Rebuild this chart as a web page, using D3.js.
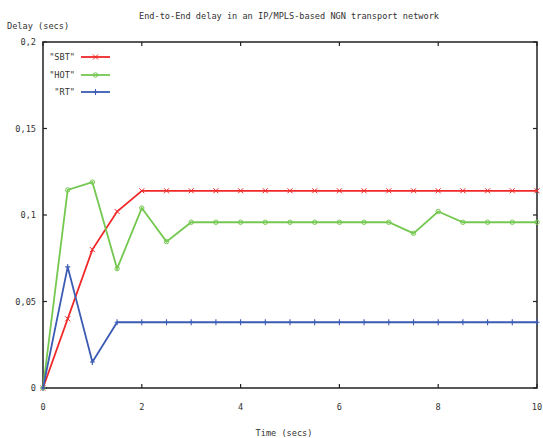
<!DOCTYPE html>
<html><head><meta charset="utf-8">
<script src="https://cdn.jsdelivr.net/npm/d3@7"></script>
<style>
body{margin:0;background:#fff;}
text{font-family:"DejaVu Sans Mono",monospace;font-size:8.6px;fill:#333;}
</style></head>
<body><svg id="c" width="543" height="438"></svg>
<script>
const times = [0,0.5,1,1.5,2,2.5,3,3.5,4,4.5,5,5.5,6,6.5,7,7.5,8,8.5,9,9.5,10];
const sbt = [0,0.040,0.080,0.102,0.114,0.114,0.114,0.114,0.114,0.114,0.114,0.114,0.114,0.114,0.114,0.114,0.114,0.114,0.114,0.114,0.114];
const hot = [0,0.1145,0.119,0.069,0.104,0.0846,0.0958,0.0958,0.0958,0.0958,0.0958,0.0958,0.0958,0.0958,0.0958,0.0894,0.102,0.0958,0.0958,0.0958,0.0958];
const rt  = [0,0.070,0.015,0.038,0.038,0.038,0.038,0.038,0.038,0.038,0.038,0.038,0.038,0.038,0.038,0.038,0.038,0.038,0.038,0.038,0.038];
const seriesNames = ['"SBT"','"HOT"','"RT"'];
const xTicks = [0,2,4,6,8,10];
const yTicks = [0,0.05,0.1,0.15,0.2];
const yTickLabels = ["0","0,05","0,1","0,15","0,2"];
const title = "End-to-End delay in an IP/MPLS-based NGN transport network";
const xLabel = "Time (secs)";
const yLabel = "Delay (secs)";

const svg = d3.select("#c");
const L=43,R=537,T=42,B=388;
const x = d3.scaleLinear().domain([0,10]).range([L,R]);
const y = d3.scaleLinear().domain([0,0.2]).range([B,T]);

const colors = ["#f02828","#74c850","#3c5cb4"];
const series = [sbt,hot,rt];

svg.append("rect").attr("x",L).attr("y",T).attr("width",R-L).attr("height",B-T)
  .attr("fill","none").attr("stroke","#222").attr("stroke-width",1.5);

const tl=4;
const ax = svg.append("g").attr("stroke","#222").attr("stroke-width",1.2);
xTicks.forEach(t=>{
  ax.append("line").attr("x1",x(t)).attr("x2",x(t)).attr("y1",B).attr("y2",B-tl);
  ax.append("line").attr("x1",x(t)).attr("x2",x(t)).attr("y1",T).attr("y2",T+tl);
});
yTicks.forEach(t=>{
  ax.append("line").attr("x1",L).attr("x2",L+tl).attr("y1",y(t)).attr("y2",y(t));
  ax.append("line").attr("x1",R).attr("x2",R-tl).attr("y1",y(t)).attr("y2",y(t));
});
xTicks.forEach(t=>{
  svg.append("text").attr("x",x(t)).attr("y",410).attr("text-anchor","middle").text(t);
});
yTicks.forEach((t,i)=>{
  svg.append("text").attr("x",36).attr("y",y(t)+3).attr("text-anchor","end").text(yTickLabels[i]);
});

svg.append("text").attr("x",289).attr("y",19).attr("text-anchor","middle").text(title);
svg.append("text").attr("x",7).attr("y",29).text(yLabel);
svg.append("text").attr("x",284).attr("y",436).attr("text-anchor","middle").text(xLabel);

function marker(g,k,cx,cy,c){
  if(k===0){
    g.append("path").attr("d",`M${cx-2.5},${cy-2.5}L${cx+2.5},${cy+2.5}M${cx-2.5},${cy+2.5}L${cx+2.5},${cy-2.5}`)
     .attr("stroke",c).attr("stroke-width",1).attr("fill","none");
  } else if(k===1){
    g.append("circle").attr("cx",cx).attr("cy",cy).attr("r",2.2).attr("stroke",c).attr("stroke-width",1).attr("fill","none");
  } else {
    g.append("path").attr("d",`M${cx-2.5},${cy}L${cx+2.5},${cy}M${cx},${cy-3}L${cx},${cy+3}`)
     .attr("stroke",c).attr("stroke-width",1.1).attr("fill","none");
  }
}

const line = d3.line().x((d,i)=>x(times[i])).y(d=>y(d));
series.forEach((s,k)=>{
  const g = svg.append("g");
  g.append("path").datum(s).attr("d",line).attr("fill","none").attr("stroke",colors[k]).attr("stroke-width",1.8);
  s.forEach((v,i)=>marker(g,k,x(times[i]),y(v),colors[k]));
});

const ly=[57,75,92];
seriesNames.forEach((n,k)=>{
  svg.append("text").attr("x",75).attr("y",ly[k]+3).attr("text-anchor","end").text(n);
  const g=svg.append("g");
  g.append("line").attr("x1",81).attr("x2",110).attr("y1",ly[k]).attr("y2",ly[k]).attr("stroke",colors[k]).attr("stroke-width",1.8);
  marker(g,k,95.5,ly[k],colors[k]);
});
</script></body></html>
